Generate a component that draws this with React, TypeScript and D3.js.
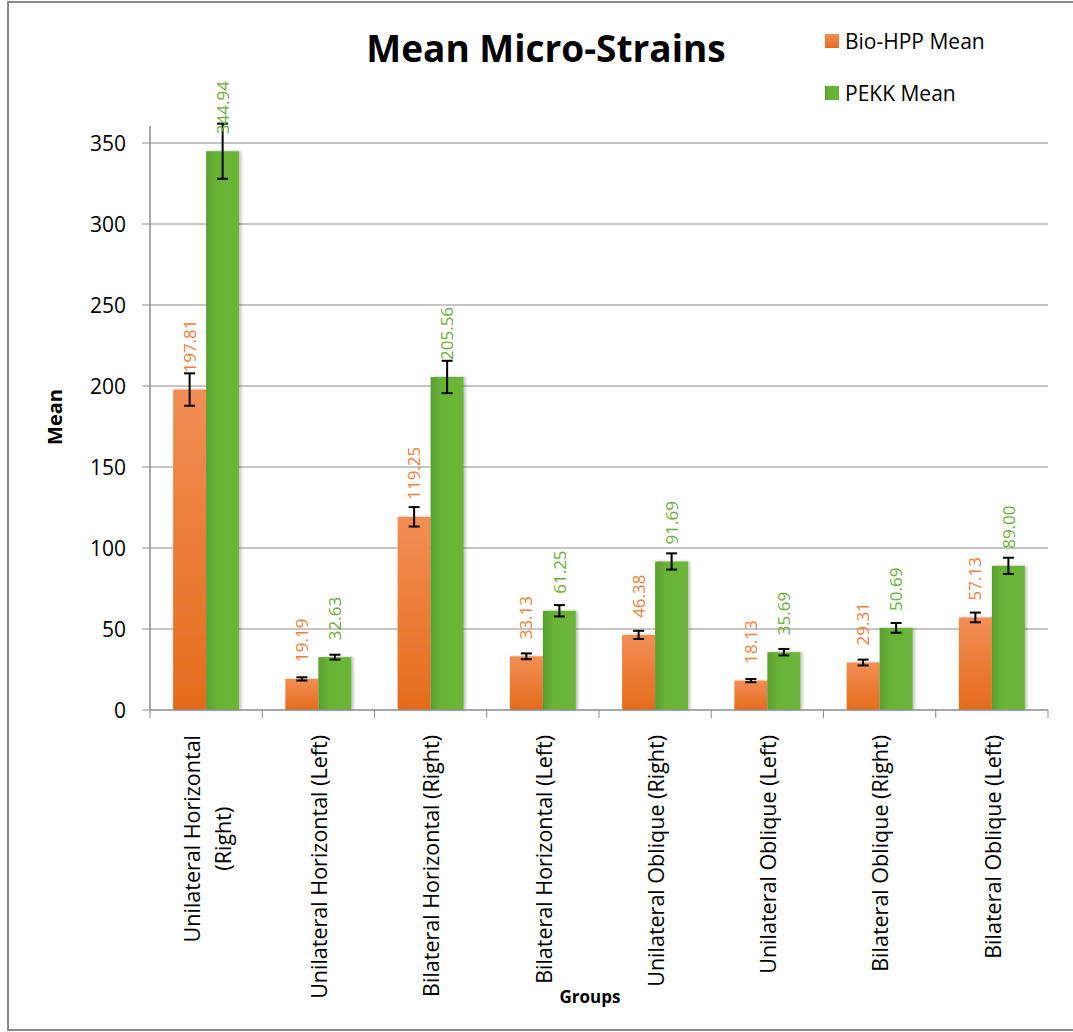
import React from "react";
import * as d3 from "d3";

const categories = [
  ["Unilateral Horizontal", "(Right)"],
  ["Unilateral Horizontal (Left)"],
  ["Bilateral Horizontal (Right)"],
  ["Bilateral Horizontal (Left)"],
  ["Unilateral Oblique (Right)"],
  ["Unilateral Oblique (Left)"],
  ["Bilateral Oblique (Right)"],
  ["Bilateral Oblique (Left)"],
];
const bioMeans = [197.81, 19.19, 119.25, 33.13, 46.38, 18.13, 29.31, 57.13];
const pekkMeans = [344.94, 32.63, 205.56, 61.25, 91.69, 35.69, 50.69, 89.0];
const bioErr = [10, 1, 6, 1.8, 2.5, 1, 1.8, 3];
const pekkErr = [17, 1.5, 10, 3.5, 5, 2, 3, 5];
const yTicks = [0, 50, 100, 150, 200, 250, 300, 350];
const seriesNames = ["Bio-HPP Mean", "PEKK Mean"];

const FONT = "'Open Sans', 'Noto Sans', sans-serif";

function measure(text: string, size: number): number {
  const c = document.createElement("canvas").getContext("2d");
  if (!c) return text.length * size * 0.5;
  c.font = `${size}px 'Open Sans'`;
  return c.measureText(text).width;
}

export default function App() {
  const W = 1073, H = 1032;
  const left = 150, right = 1048, top = 143, bottom = 710;
  const x0 = d3.scaleBand<number>().domain(d3.range(categories.length)).range([left, right]);
  const x1 = d3.scaleBand<string>().domain(["bio", "pekk"]).range([0, x0.bandwidth()]).paddingOuter(0.7).paddingInner(0);
  const y = d3.scaleLinear().domain([0, 350]).range([bottom, top]);
  const bw = x1.bandwidth();
  const catSize = 21.5;

  const series = [
    { key: "bio", vals: bioMeans, errs: bioErr, fill: "url(#gOrange)", label: "#F0803C" },
    { key: "pekk", vals: pekkMeans, errs: pekkErr, fill: "url(#gGreen)", label: "#6AAE3C" },
  ];

  return (
    <svg width={W} height={H} style={{ position: "absolute", left: 0, top: 0, background: "#fff" }} fontFamily={FONT}>
      <defs>
        <linearGradient id="gOrange" x1="0" y1="0" x2="0" y2="1">
          <stop offset="0" stopColor="#F28E55" />
          <stop offset="1" stopColor="#E56B1B" />
        </linearGradient>
        <linearGradient id="gGreen" x1="0" y1="0" x2="1" y2="0">
          <stop offset="0" stopColor="#5C9E2F" />
          <stop offset="0.3" stopColor="#68B336" />
          <stop offset="1" stopColor="#6BB637" />
        </linearGradient>
        <filter id="sh" x="-20%" y="-5%" width="150%" height="110%">
          <feDropShadow dx="2" dy="0" stdDeviation="1.5" floodColor="#000" floodOpacity="0.25" />
        </filter>
      </defs>
      <rect x={8} y={2} width={1066} height={1028} fill="#fff" stroke="#8a8a8a" strokeWidth={2} />

      {/* gridlines */}
      {yTicks.map((t) => (
        <g key={t}>
          {t > 0 && <line x1={left} x2={right} y1={y(t)} y2={y(t)} stroke="#8c8c8c" strokeWidth={1} />}
          <line x1={left - 8} x2={left} y1={y(t)} y2={y(t)} stroke="#8c8c8c" strokeWidth={1} />
          <text x={126} y={y(t)} dy="0.36em" textAnchor="end" fontSize={21} fill="#000">{t}</text>
        </g>
      ))}
      <line x1={left} x2={left} y1={126} y2={bottom} stroke="#8c8c8c" strokeWidth={1.5} />

      {/* bars */}
      {series.map((s) => (
        <g key={s.key}>
          {s.vals.map((v, i) => {
            const bx = x0(i)! + x1(s.key)!;
            return (
              <rect key={i} x={bx} y={y(v)} width={bw} height={y(0) - y(v)} fill={s.fill} filter="url(#sh)" />
            );
          })}
        </g>
      ))}

      {/* x axis */}
      <line x1={left} x2={right} y1={bottom} y2={bottom} stroke="#8c8c8c" strokeWidth={1.5} />
      {d3.range(categories.length + 1).map((i) => {
        const xx = left + i * x0.step();
        return <line key={i} x1={xx} x2={xx} y1={bottom} y2={bottom + 8} stroke="#8c8c8c" />;
      })}

      {/* error bars + labels */}
      {series.map((s) => (
        <g key={s.key + "e"}>
          {s.vals.map((v, i) => {
            const cx = x0(i)! + x1(s.key)! + bw / 2;
            const e = s.errs[i];
            const yt = y(v + e), yb = y(v - e);
            return (
              <g key={i}>
                <line x1={cx} x2={cx} y1={yt} y2={yb} stroke="#000" strokeWidth={2} />
                <line x1={cx - 5.5} x2={cx + 5.5} y1={yt} y2={yt} stroke="#000" strokeWidth={2} />
                <line x1={cx - 5.5} x2={cx + 5.5} y1={yb} y2={yb} stroke="#000" strokeWidth={2} />
                <text transform={`translate(${cx},${y(v) - 17}) rotate(-90)`} dy="0.36em" textAnchor="start" fontSize={17} fill={s.label}>
                  {v.toFixed(2)}
                </text>
              </g>
            );
          })}
        </g>
      ))}

      {/* category labels */}
      {categories.map((lines, i) => {
        const cx = x0(i)! + x0.bandwidth() / 2;
        const lh = 31;
        const maxLen = Math.max(...lines.map((l) => measure(l, catSize)));
        const startY = bottom + 25;
        const offX = lines.length > 1 ? -14 : 1;
        return (
          <text key={i} transform={`translate(${cx + offX},${startY + maxLen / 2}) rotate(-90)`} textAnchor="middle" fontSize={catSize} fill="#000">
            {lines.map((ln, j) => (
              <tspan key={j} x={0} y={j * lh} dy="0.36em">{ln}</tspan>
            ))}
          </text>
        );
      })}

      {/* axis titles */}
      <text transform={`translate(55,417) rotate(-90)`} textAnchor="middle" fontSize={20} fontWeight="bold" dy="0.36em">Mean</text>
      <text x={590} y={1003} textAnchor="middle" fontSize={17} fontWeight="bold">Groups</text>

      {/* title */}
      <text x={546} y={62} textAnchor="middle" fontSize={37} fontWeight="bold">Mean Micro-Strains</text>

      {/* legend */}
      {seriesNames.map((n, i) => (
        <g key={n} transform={`translate(825,${34 + i * 52})`}>
          <rect x={0} y={0} width={14} height={14} fill={i === 0 ? "url(#gOrange)" : "url(#gGreen)"} />
          <text x={20} y={7} dy="0.36em" fontSize={21} fill="#000">{n}</text>
        </g>
      ))}
    </svg>
  );
}
